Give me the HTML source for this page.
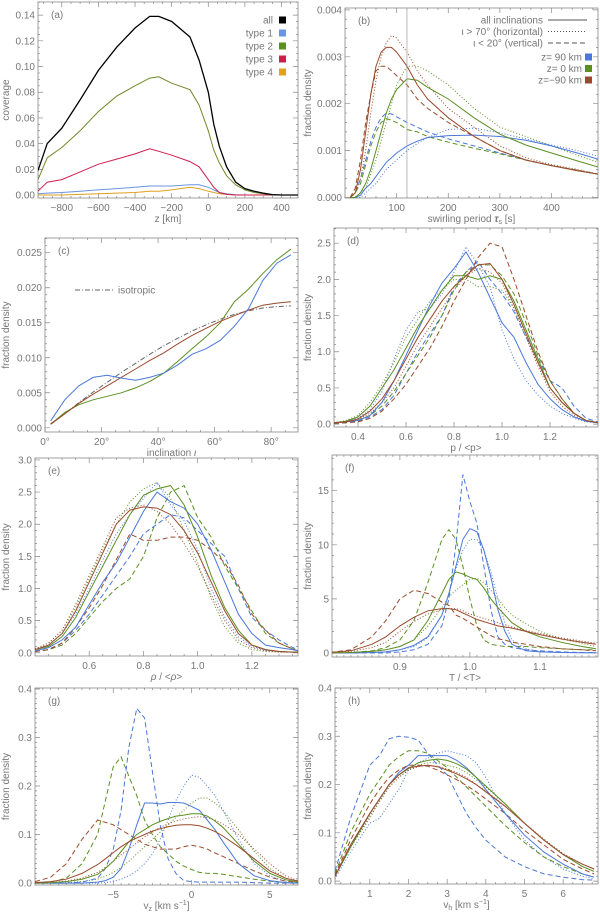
<!DOCTYPE html>
<html><head><meta charset="utf-8"><style>
body{margin:0;background:#fff;}
svg{display:block;font-family:"Liberation Sans",sans-serif;}
text{fill:#777;font-size:10px;}
</style></head><body>
<svg id="chart" width="600" height="913" viewBox="0 0 600 913" xmlns="http://www.w3.org/2000/svg"></svg>
<script>
// ---- data ----
const aX=[-930,-880,-800,-700,-600,-500,-400,-320,-270,-200,-100,-50,0,30,60,100,150,200,250,300,350,400,490];
const aAll=[0.019,0.04,0.052,0.074,0.097,0.115,0.13,0.139,0.139,0.135,0.123,0.105,0.08,0.055,0.038,0.022,0.01,0.005,0.003,0.0015,0.0003,0,0];
const aType1=[0.001,0.0015,0.002,0.003,0.004,0.005,0.006,0.007,0.007,0.007,0.008,0.008,0.006,0.004,0.002,0.001,0.0002,0,0,0,0,0,0];
const aType2=[0.012,0.029,0.037,0.05,0.065,0.077,0.085,0.091,0.092,0.087,0.082,0.07,0.05,0.035,0.025,0.015,0.008,0.004,0.002,0.001,0.0002,0,0];
const aType3=[0.003,0.01,0.012,0.018,0.024,0.028,0.032,0.036,0.034,0.031,0.026,0.022,0.012,0.006,0.002,0.0005,0,0,0,0,0,0,0];
const aType4=[0,0,0,0.0005,0.001,0.0015,0.002,0.003,0.003,0.004,0.006,0.005,0.003,0.002,0.001,0.0005,0,0,0,0,0,0,0];

const bX=[10,20,30,40,50,60,70,80,90,100,120,140,160,200,250,300,350,400,450,490];
const b90All=[0,0,0.00005,0.0002,0.0003,0.00045,0.0006,0.00075,0.00085,0.00095,0.0011,0.0012,0.00128,0.00132,0.00133,0.0013,0.00122,0.0011,0.00095,0.00082];
const b90Hor=[0,0,0,0.0001,0.0002,0.0003,0.00045,0.0006,0.0007,0.0008,0.001,0.00115,0.00128,0.00145,0.00148,0.00138,0.00125,0.00112,0.001,0.00088];
const b90Ver=[0,0.0001,0.0004,0.0008,0.0012,0.0015,0.0017,0.0018,0.00178,0.00172,0.0016,0.0015,0.0014,0.00125,0.0011,0.00095,0.0008,0.00068,0.00058,0.0005];
const b0All=[0,0,0.0001,0.0003,0.0006,0.001,0.0014,0.0018,0.0021,0.0023,0.00253,0.0025,0.00235,0.0021,0.0017,0.00135,0.00112,0.00095,0.00078,0.00065];
const b0Hor=[0,0,0.0001,0.0002,0.0005,0.0008,0.0012,0.0016,0.002,0.0024,0.0028,0.0028,0.0027,0.0024,0.0019,0.0015,0.0013,0.0011,0.0009,0.00075];
const b0Ver=[0,0.0001,0.0003,0.0007,0.0011,0.0014,0.0016,0.00168,0.00165,0.0016,0.00145,0.0014,0.0013,0.00118,0.00105,0.00093,0.0008,0.00068,0.00058,0.0005];
const bm90All=[0,0.0001,0.0006,0.0014,0.0022,0.0028,0.0031,0.0032,0.0032,0.0031,0.0028,0.0024,0.0021,0.0017,0.0013,0.001,0.0008,0.00068,0.00057,0.0005];
const bm90Hor=[0,0.0001,0.0004,0.001,0.0018,0.0025,0.003,0.0033,0.00345,0.0034,0.0031,0.0027,0.0024,0.0019,0.0015,0.0011,0.00085,0.0007,0.0006,0.0005];
const bm90Ver=[0,0.0002,0.0008,0.0016,0.0022,0.0027,0.0028,0.0028,0.0027,0.0026,0.0024,0.0021,0.0019,0.0016,0.0013,0.001,0.0008,0.00068,0.00058,0.0005];

const cX=[2,7,12,17,22,27,32,37,42,47,52,57,62,67,72,77,82,87];
const c90=[0.001,0.004,0.006,0.0072,0.0075,0.0071,0.0068,0.0072,0.0078,0.009,0.0105,0.0113,0.0125,0.0145,0.017,0.021,0.0235,0.0247];
const c0=[0.0005,0.0022,0.0033,0.004,0.0045,0.005,0.0057,0.0066,0.0078,0.0095,0.0113,0.013,0.015,0.018,0.0198,0.022,0.024,0.0255];
const cm90=[0.0005,0.002,0.0035,0.0048,0.006,0.0072,0.0084,0.0096,0.0107,0.012,0.0132,0.0142,0.0152,0.016,0.0168,0.0175,0.0178,0.018];
const cIso=[0.0006,0.002,0.0036,0.0051,0.0065,0.0079,0.0092,0.0105,0.0117,0.0128,0.0138,0.0147,0.0155,0.0162,0.0167,0.0171,0.0173,0.0174];

const dX=[0.3,0.35,0.4,0.45,0.5,0.55,0.6,0.65,0.7,0.75,0.8,0.85,0.9,0.95,1.0,1.05,1.1,1.15,1.2,1.25,1.3,1.35,1.4];
const d90All=[0.02,0.03,0.05,0.12,0.3,0.6,0.95,1.3,1.65,1.95,2.15,2.38,2.1,1.75,1.4,1.2,0.85,0.55,0.35,0.2,0.1,0.04,0.02];
const d90Hor=[0.02,0.04,0.08,0.2,0.45,0.9,1.3,1.55,1.6,1.8,2.1,2.45,2.2,1.9,1.3,0.9,0.6,0.4,0.25,0.15,0.08,0.03,0.02];
const d90Ver=[0.01,0.02,0.04,0.1,0.2,0.4,0.7,1.0,1.25,1.5,1.9,2.1,2.25,2.0,1.8,1.55,1.2,0.9,0.6,0.5,0.25,0.08,0.03];
const d0All=[0.02,0.04,0.1,0.25,0.5,0.75,1.05,1.35,1.6,1.85,2.05,2.05,2.0,2.05,2.0,1.7,1.3,0.9,0.5,0.3,0.15,0.05,0.02];
const d0Hor=[0.02,0.05,0.12,0.3,0.55,0.85,1.2,1.45,1.7,1.85,2.0,2.0,1.9,1.9,1.85,1.6,1.2,0.85,0.5,0.3,0.15,0.05,0.02];
const d0Ver=[0.01,0.02,0.05,0.12,0.25,0.45,0.7,0.95,1.2,1.5,1.85,2.1,2.2,2.2,2.05,1.8,1.4,0.95,0.6,0.35,0.15,0.05,0.02];
const dm90All=[0.02,0.03,0.07,0.18,0.35,0.6,0.9,1.2,1.45,1.7,1.9,2.05,2.2,2.22,2.0,1.65,1.25,0.85,0.5,0.3,0.15,0.05,0.02];
const dm90Hor=[0.02,0.03,0.06,0.15,0.3,0.5,0.8,1.1,1.35,1.6,1.85,2.05,2.15,2.1,1.95,1.6,1.2,0.8,0.45,0.25,0.12,0.04,0.02];
const dm90Ver=[0.01,0.02,0.03,0.08,0.18,0.35,0.55,0.8,1.05,1.35,1.7,2.0,2.3,2.5,2.45,2.0,1.5,1.0,0.6,0.35,0.15,0.05,0.02];

const eX=[0.4,0.45,0.5,0.55,0.6,0.65,0.7,0.75,0.8,0.85,0.9,0.95,1.0,1.05,1.1,1.15,1.2,1.25,1.3,1.35,1.37];
const e90All=[0.03,0.08,0.2,0.4,0.75,1.1,1.4,1.8,2.2,2.5,2.35,2.25,2.0,1.6,1.1,0.6,0.3,0.12,0.08,0.05,0.03];
const e90Hor=[0.05,0.12,0.3,0.6,1.0,1.45,1.85,2.15,2.4,2.65,2.3,2.05,1.6,1.0,0.55,0.25,0.1,0.04,0.02,0.01,0.01];
const e90Ver=[0.02,0.05,0.15,0.35,0.6,0.9,1.2,1.5,1.85,2.0,2.15,2.1,1.9,1.7,1.5,1.0,0.55,0.35,0.2,0.08,0.05];
const e0All=[0.05,0.1,0.25,0.55,0.95,1.35,1.75,2.15,2.45,2.55,2.6,2.3,1.8,1.2,0.7,0.35,0.12,0.05,0.02,0.01,0.01];
const e0Hor=[0.06,0.15,0.35,0.7,1.15,1.6,2.0,2.35,2.55,2.65,2.4,1.9,1.4,0.85,0.4,0.15,0.05,0.02,0.01,0.01,0.01];
const e0Ver=[0.02,0.05,0.12,0.3,0.55,0.8,1.0,1.15,1.5,2.1,2.5,2.6,2.1,1.8,1.35,1.0,0.65,0.3,0.15,0.06,0.03];
const em90All=[0.05,0.12,0.3,0.65,1.1,1.55,2.0,2.22,2.27,2.25,2.15,1.9,1.55,1.1,0.65,0.3,0.12,0.05,0.02,0.01,0.01];
const em90Hor=[0.06,0.15,0.35,0.75,1.2,1.65,2.1,2.25,2.3,2.2,2.0,1.7,1.35,0.9,0.5,0.2,0.08,0.03,0.01,0.01,0.01];
const em90Ver=[0.02,0.05,0.15,0.4,0.7,1.05,1.45,1.85,1.75,1.75,1.8,1.8,1.75,1.6,1.4,1.05,0.6,0.35,0.15,0.06,0.03];

const fX=[0.8,0.83,0.86,0.88,0.9,0.92,0.94,0.96,0.97,0.98,0.99,1.0,1.01,1.02,1.03,1.04,1.05,1.06,1.08,1.1,1.13,1.16,1.18];
const f90All=[0,0,0.05,0.1,0.3,0.7,1.5,3.5,5.5,8,10.5,11.5,11.2,9.5,7,4,2,0.8,0.2,0.1,0.05,0.02,0.02];
const f90Hor=[0,0,0.05,0.1,0.3,0.6,1.4,3.5,5.5,7.8,9.5,10.5,10.5,9.5,7.5,5,2.8,1.2,0.4,0.15,0.05,0.02,0.02];
const f90Ver=[0,0,0,0,0.1,0.3,0.8,2.5,5,10,16.5,14,12,8,4,1.5,0.8,0.5,0.3,0.2,0.1,0.05,0.05];
const f0All=[0,0.05,0.15,0.3,0.6,1.2,3.0,5.5,6.8,7.5,7.3,7.0,6.8,6.0,5.0,4.2,3.5,2.8,2.0,1.5,1.0,0.6,0.4];
const f0Hor=[0,0.05,0.15,0.3,0.6,1.2,2.5,4.2,5.2,5.8,6.3,6.8,6.9,6.5,5.8,5.0,4.2,3.5,2.7,2.0,1.3,0.9,0.6];
const f0Ver=[0,0.05,0.2,0.5,1.2,3,6.5,10.5,11.4,10.5,8,5,2.5,1.2,0.8,0.7,0.6,0.6,0.6,0.5,0.4,0.3,0.3];
const fm90All=[0.05,0.2,0.8,1.5,2.5,3.3,3.9,4.1,4.1,4.0,3.7,3.4,3.1,2.9,2.7,2.5,2.4,2.3,2.0,1.7,1.3,1.0,0.8];
const fm90Hor=[0.05,0.15,0.5,1.0,2.0,2.9,3.6,4.0,4.1,4.1,3.9,3.6,3.4,3.2,3.0,2.8,2.6,2.4,2.1,1.8,1.4,1.1,0.9];
const fm90Ver=[0.05,0.3,1.5,3.0,5.0,5.8,5.5,4.7,4.4,3.5,3.2,2.8,2.4,2.0,1.6,1.3,1.2,1.0,0.8,0.6,0.4,0.3,0.2];

const gX=[-10,-9,-8,-7,-6,-5.5,-5,-4.5,-4,-3.5,-3,-2.5,-2,-1.5,-1,-0.5,0,0.5,1,1.5,2,3,4,5,6,6.8];
const g90All=[0,0,0,0,0.002,0.005,0.012,0.03,0.07,0.12,0.165,0.165,0.163,0.166,0.166,0.165,0.158,0.15,0.13,0.11,0.085,0.04,0.015,0.005,0.001,0];
const g90Hor=[0,0,0,0,0,0.001,0.003,0.008,0.015,0.025,0.04,0.06,0.09,0.13,0.17,0.2,0.222,0.218,0.2,0.18,0.15,0.09,0.04,0.015,0.003,0.001];
const g90Ver=[0,0,0,0.002,0.01,0.03,0.07,0.15,0.28,0.36,0.34,0.23,0.12,0.05,0.02,0.005,0.003,0.002,0.002,0.002,0.002,0.002,0.001,0,0,0];
const g0All=[0,0.001,0.003,0.008,0.018,0.03,0.045,0.065,0.085,0.1,0.11,0.12,0.127,0.133,0.138,0.14,0.143,0.143,0.138,0.128,0.115,0.08,0.045,0.02,0.007,0.002];
const g0Hor=[0,0,0.001,0.003,0.008,0.014,0.022,0.032,0.045,0.06,0.075,0.09,0.105,0.12,0.135,0.15,0.165,0.175,0.175,0.165,0.15,0.11,0.065,0.03,0.01,0.003];
const g0Ver=[0,0.002,0.01,0.04,0.1,0.17,0.24,0.26,0.22,0.18,0.13,0.1,0.075,0.06,0.045,0.035,0.028,0.022,0.02,0.02,0.018,0.013,0.008,0.004,0.001,0];
const gm90All=[0.001,0.003,0.008,0.02,0.038,0.05,0.063,0.075,0.085,0.093,0.1,0.107,0.112,0.116,0.119,0.12,0.12,0.118,0.113,0.106,0.097,0.075,0.05,0.025,0.01,0.004];
const gm90Hor=[0,0.001,0.004,0.01,0.022,0.032,0.045,0.058,0.07,0.083,0.095,0.105,0.115,0.122,0.128,0.132,0.135,0.137,0.135,0.13,0.122,0.1,0.07,0.04,0.015,0.005];
const gm90Ver=[0.003,0.012,0.04,0.09,0.13,0.125,0.12,0.11,0.1,0.09,0.08,0.075,0.07,0.07,0.07,0.075,0.078,0.075,0.07,0.062,0.055,0.04,0.025,0.012,0.004,0.001];

const hX=[0.1,0.5,1,1.25,1.5,1.75,2,2.25,2.5,2.75,3,3.25,3.5,3.75,4,4.5,5,5.5,6,6.5,6.8];
const h90All=[0.01,0.07,0.14,0.17,0.2,0.225,0.24,0.26,0.26,0.26,0.26,0.25,0.235,0.215,0.19,0.14,0.095,0.06,0.035,0.015,0.008];
const h90Hor=[0.005,0.06,0.12,0.13,0.16,0.19,0.23,0.245,0.255,0.265,0.27,0.265,0.26,0.245,0.215,0.14,0.085,0.05,0.025,0.01,0.005];
const h90Ver=[0.02,0.13,0.24,0.26,0.295,0.3,0.298,0.292,0.265,0.24,0.22,0.18,0.14,0.11,0.085,0.05,0.03,0.015,0.008,0.003,0.002];
const h0All=[0.01,0.07,0.14,0.17,0.2,0.22,0.233,0.245,0.25,0.253,0.25,0.243,0.232,0.215,0.197,0.16,0.12,0.085,0.055,0.03,0.02];
const h0Hor=[0.01,0.07,0.13,0.165,0.195,0.215,0.23,0.24,0.245,0.245,0.24,0.235,0.225,0.21,0.195,0.16,0.12,0.085,0.055,0.03,0.02];
const h0Ver=[0.015,0.1,0.18,0.21,0.24,0.258,0.27,0.27,0.265,0.25,0.235,0.215,0.195,0.175,0.155,0.115,0.08,0.05,0.03,0.015,0.008];
const hm90All=[0.01,0.075,0.14,0.17,0.2,0.22,0.235,0.238,0.24,0.237,0.23,0.222,0.212,0.2,0.185,0.155,0.12,0.085,0.055,0.035,0.025];
const hm90Hor=[0.01,0.07,0.135,0.165,0.195,0.215,0.23,0.237,0.24,0.238,0.232,0.225,0.215,0.2,0.187,0.155,0.12,0.087,0.057,0.035,0.025];
const hm90Ver=[0.012,0.085,0.16,0.19,0.215,0.23,0.24,0.24,0.238,0.23,0.22,0.21,0.198,0.185,0.17,0.14,0.105,0.075,0.045,0.025,0.015];

// ---- drawing ----
const NS='http://www.w3.org/2000/svg';
const svg=document.getElementById('chart');
const BLUE='#4a78d8',GREEN='#5c8f22',BROWN='#9a4a2c';
const SOLID='',DOT='1,2',DASH='5,3';
function mk(tag,attrs,parent){const e=document.createElementNS(NS,tag);for(const k in attrs)e.setAttribute(k,attrs[k]);(parent||svg).appendChild(e);return e;}
function txt(s,x,y,anchor,parent,extra){const t=mk('text',Object.assign({x:x,y:y,'text-anchor':anchor||'middle'},extra||{}),parent);t.textContent=s;return t;}

function panel(c){
  const g=mk('g',{});
  
  
  const sx=v=>c.L+(v-c.x0)/(c.x1-c.x0)*(c.R-c.L);
  const sy=v=>c.B-(v-c.y0)/(c.y1-c.y0)*(c.B-c.T);
  c.sx=sx;c.sy=sy;
  const fr=mk('rect',{x:c.L,y:c.T,width:c.R-c.L,height:c.B-c.T,fill:'none',stroke:'#888','stroke-width':0.8},g);
  
  
  // minor ticks
  let p='';
  for(let v=Math.ceil(c.x0/c.xm)*c.xm;v<=c.x1+1e-9;v+=c.xm){const X=sx(v);p+=`M${X},${c.B}v-2M${X},${c.T}v2`;}
  for(let v=Math.ceil(c.y0/c.ym)*c.ym;v<=c.y1+1e-9;v+=c.ym){const Y=sy(v);p+=`M${c.L},${Y}h2M${c.R},${Y}h-2`;}
  c.xt.forEach(v=>{const X=sx(v);p+=`M${X},${c.B}v-5M${X},${c.T}v5`;});
  c.yt.forEach(v=>{const Y=sy(v);p+=`M${c.L},${Y}h5M${c.R},${Y}h-5`;});
  const tk=mk('path',{d:p,stroke:'#888','stroke-width':0.7,fill:'none'},g);
  
  
  c.xt.forEach((v,i)=>{const t=txt(c.xl[i],sx(v),c.B+13,'middle',g);
    
    });
  c.yt.forEach((v,i)=>{const t=txt(c.yl[i],c.L-3,sy(v)+3.5,'end',g);
    
    });
  const xtl=txt('',(c.L+c.R)/2,c.B+24,'middle',g);xtl.innerHTML=c.xtitle;
  
  
  const ytl=txt(c.ytitle,0,0,'middle',g,{transform:`translate(${c.yx},${(c.T+c.B)/2}) rotate(-90)`});
  
  
  const pl=txt('('+c.id+')',c.L+13,c.T+16,'start',g,{fill:'#555'});
  
  
  const clip=mk('clipPath',{id:'clip'+c.id},g);
  mk('rect',{x:c.L,y:c.T,width:c.R-c.L,height:c.B-c.T},clip);
  c.lines=mk('g',{'clip-path':`url(#clip${c.id})`},g);
  c.g=g;
  return c;
}
function series(c,xs,ys,color,dash,name,w){
  const d=xs.map((x,i)=>(i?'L':'M')+c.sx(x).toFixed(1)+','+c.sy(ys[i]).toFixed(1)).join('');
  const e=mk('path',{d:d,fill:'none',stroke:color,'stroke-width':w||1,'stroke-dasharray':dash},c.lines);
  
  
  return e;
}
const fmt=(n,d)=>n.map(v=>v.toFixed(d).replace('-','\u2212'));

// (a)
const A=panel({id:'a',L:38,R:298,T:2,B:198,x0:-930,x1:490,y0:-0.0023,y1:0.1502,
 xt:[-800,-600,-400,-200,0,200,400],xl:fmt([-800,-600,-400,-200,0,200,400],0),xm:50,
 yt:[0,0.02,0.04,0.06,0.08,0.1,0.12,0.14],yl:fmt([0,0.02,0.04,0.06,0.08,0.1,0.12,0.14],2),ym:0.005,
 xtitle:'z [km]',ytitle:'coverage',yx:9});
series(A,aX,aType4,'#e0a020',SOLID,'line-type-4');
series(A,aX,aType1,'#6a95e0',SOLID,'line-type-1');
series(A,aX,aType3,'#d01e4c',SOLID,'line-type-3');
series(A,aX,aType2,'#6f8a2a',SOLID,'line-type-2');
series(A,aX,aAll,'#000',SOLID,'line-all',1.3);
[['all','#000'],['type 1','#6a95e0'],['type 2','#5c8f22'],['type 3','#d01e4c'],['type 4','#e0a020']].forEach((it,i)=>{
  const y=20+i*13;
  const t=txt(it[0],273,y+3.5,'end',A.g);
  
  
  const r=mk('rect',{x:279,y:y-3.5,width:7,height:7,fill:it[1]},A.g);
  
  
});

// (b)
const Bp=panel({id:'b',L:345,R:598,T:8,B:198,x0:0,x1:490,y0:-0.00001,y1:0.00404,
 xt:[100,200,300,400],xl:['100','200','300','400'],xm:20,
 yt:[0,0.001,0.002,0.003,0.004],yl:fmt([0,0.001,0.002,0.003,0.004],3),ym:0.0002,
 xtitle:'swirling period <tspan font-weight="bold" font-style="italic">τ</tspan><tspan font-size="7" dy="2">s</tspan><tspan dy="-2"> [s]</tspan>',ytitle:'fraction density',yx:311});
const vl=mk('line',{x1:Bp.sx(120),x2:Bp.sx(120),y1:Bp.T,y2:Bp.B,stroke:'#aaa','stroke-width':0.8},Bp.g);


series(Bp,bX,b90Hor,BLUE,DOT,'line-z90-horizontal');
series(Bp,bX,b0Hor,GREEN,DOT,'line-z0-horizontal');
series(Bp,bX,bm90Hor,BROWN,DOT,'line-zm90-horizontal');
series(Bp,bX,b90Ver,BLUE,DASH,'line-z90-vertical');
series(Bp,bX,b0Ver,GREEN,DASH,'line-z0-vertical');
series(Bp,bX,bm90Ver,BROWN,DASH,'line-zm90-vertical');
series(Bp,bX,b90All,BLUE,SOLID,'line-z90-all');
series(Bp,bX,b0All,GREEN,SOLID,'line-z0-all');
series(Bp,bX,bm90All,BROWN,SOLID,'line-zm90-all');
[['all inclinations',SOLID],['\u03b9 > 70\u00b0 (horizontal)',DOT],['\u03b9 < 20\u00b0 (vertical)',DASH]].forEach((it,i)=>{
  const y=20+i*11.5;
  const t=txt(it[0],543,y+3.5,'end',Bp.g);
  
  
  const l=mk('line',{x1:548,x2:587,y1:y,y2:y,stroke:'#555','stroke-width':1,'stroke-dasharray':it[1]},Bp.g);
  
  
});
[['z=  90 km',BLUE],['z=    0 km',GREEN],['z=\u221290 km',BROWN]].forEach((it,i)=>{
  const y=57+i*11.5;
  const t=txt(it[0],582,y+3.5,'end',Bp.g,{'xml:space':'preserve'});
  
  
  const r=mk('rect',{x:585,y:y-3.5,width:7,height:7,fill:it[1]},Bp.g);
  
  
});

// (c)
const C=panel({id:'c',L:45,R:298,T:238,B:432,x0:0,x1:89.5,y0:-0.0006,y1:0.0271,
 xt:[0,20,40,60,80],xl:['0\u00b0','20\u00b0','40\u00b0','60\u00b0','80\u00b0'],xm:5,
 yt:[0,0.005,0.01,0.015,0.02,0.025],yl:fmt([0,0.005,0.01,0.015,0.02,0.025],3),ym:0.001,
 xtitle:'inclination <tspan font-style="italic">ι</tspan>',ytitle:'fraction density',yx:9});
series(C,cX,cIso,'#666','5,2,1,2','line-isotropic');
series(C,cX,c0,GREEN,SOLID,'line-z0');
series(C,cX,cm90,BROWN,SOLID,'line-zm90');
series(C,cX,c90,BLUE,SOLID,'line-z90');
const il=mk('line',{x1:75,x2:114,y1:290,y2:290,stroke:'#666','stroke-dasharray':'5,2,1,2'},C.g);


const it=txt('isotropic',118,293.5,'start',C.g);



function nine(P,X,s){
  series(P,X,s[1],BLUE,DOT,'line-z90-horizontal');
  series(P,X,s[4],GREEN,DOT,'line-z0-horizontal');
  series(P,X,s[7],BROWN,DOT,'line-zm90-horizontal');
  series(P,X,s[2],BLUE,DASH,'line-z90-vertical');
  series(P,X,s[5],GREEN,DASH,'line-z0-vertical');
  series(P,X,s[8],BROWN,DASH,'line-zm90-vertical');
  series(P,X,s[0],BLUE,SOLID,'line-z90-all');
  series(P,X,s[3],GREEN,SOLID,'line-z0-all');
  series(P,X,s[6],BROWN,SOLID,'line-zm90-all');
}
// (d)
const D=panel({id:'d',L:334,R:598,T:228,B:427,x0:0.3,x1:1.4,y0:-0.04,y1:2.71,
 xt:[0.4,0.6,0.8,1.0,1.2],xl:fmt([0.4,0.6,0.8,1.0,1.2],1),xm:0.05,
 yt:[0,0.5,1,1.5,2,2.5],yl:fmt([0,0.5,1,1.5,2,2.5],1),ym:0.1,
 xtitle:'p  /  &lt;p&gt;',ytitle:'fraction density',yx:311});
nine(D,dX,[d90All,d90Hor,d90Ver,d0All,d0Hor,d0Ver,dm90All,dm90Hor,dm90Ver]);
// (e)
const E=panel({id:'e',L:35,R:298,T:458,B:656,x0:0.4,x1:1.37,y0:-0.05,y1:3.03,
 xt:[0.6,0.8,1.0,1.2],xl:fmt([0.6,0.8,1.0,1.2],1),xm:0.05,
 yt:[0,0.5,1,1.5,2,2.5,3],yl:fmt([0,0.5,1,1.5,2,2.5,3],1),ym:0.1,
 xtitle:'<tspan font-style="italic">ρ</tspan>  /  &lt;<tspan font-style="italic">ρ</tspan>&gt;',ytitle:'fraction density',yx:9});
nine(E,eX,[e90All,e90Hor,e90Ver,e0All,e0Hor,e0Ver,em90All,em90Hor,em90Ver]);
// (f)
const F=panel({id:'f',L:332,R:598,T:455,B:657,x0:0.803,x1:1.183,y0:-0.37,y1:18.3,
 xt:[0.9,1.0,1.1],xl:fmt([0.9,1.0,1.1],1),xm:0.01,
 yt:[0,5,10,15],yl:['0','5','10','15'],ym:1,
 xtitle:'T  /  &lt;T&gt;',ytitle:'fraction density',yx:311});
nine(F,fX,[f90All,f90Hor,f90Ver,f0All,f0Hor,f0Ver,fm90All,fm90Hor,fm90Ver]);
// (g)
const G=panel({id:'g',L:35,R:298,T:688,B:885,x0:-10,x1:6.8,y0:-0.004,y1:0.402,
 xt:[-5,0,5],xl:['\u22125','0','5'],xm:0.5,
 yt:[0,0.1,0.2,0.3,0.4],yl:fmt([0,0.1,0.2,0.3,0.4],1),ym:0.01,
 xtitle:'v<tspan font-size="7" dy="2">z</tspan><tspan dy="-2"> [km s</tspan><tspan font-size="7" dy="-4">−1</tspan><tspan dy="4">]</tspan>',ytitle:'fraction density',yx:9});
nine(G,gX,[g90All,g90Hor,g90Ver,g0All,g0Hor,g0Ver,gm90All,gm90Hor,gm90Ver]);
// (h)
const H=panel({id:'h',L:335,R:598,T:688,B:884,x0:0.1,x1:6.9,y0:-0.006,y1:0.4,
 xt:[1,2,3,4,5,6],xl:['1','2','3','4','5','6'],xm:0.25,
 yt:[0,0.1,0.2,0.3,0.4],yl:fmt([0,0.1,0.2,0.3,0.4],1),ym:0.01,
 xtitle:'v<tspan font-size="7" dy="2">h</tspan><tspan dy="-2"> [km s</tspan><tspan font-size="7" dy="-4">−1</tspan><tspan dy="4">]</tspan>',ytitle:'fraction density',yx:311});
nine(H,hX,[h90All,h90Hor,h90Ver,h0All,h0Hor,h0Ver,hm90All,hm90Hor,hm90Ver]);
</script>
</body></html>
